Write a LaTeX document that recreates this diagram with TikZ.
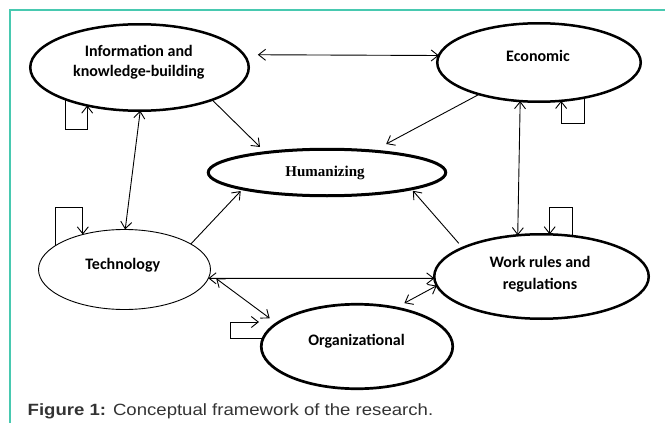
\documentclass[tikz,border=0pt]{standalone}
\usepackage{fontspec}
\setmainfont{Liberation Serif}
\newfontfamily\calibrifont{Carlito}
\newfontfamily\arialfont{Liberation Sans}
\usetikzlibrary{shapes.geometric,arrows.meta}
\definecolor{frameteal}{RGB}{72,201,176}
\definecolor{captiongray}{RGB}{51,51,51}
\begin{document}
\begin{tikzpicture}[x=1pt,y=-1pt,
  oval/.style={draw=black, ellipse, line width=2.5pt, inner sep=0pt, outer sep=0pt},
  thinoval/.style={oval, line width=0.9pt},
  lbl/.style={font=\calibrifont\bfseries\fontsize{16}{20}\selectfont, align=center, inner sep=0pt},
  link/.style={line width=0.9pt, draw=black},
  onehead/.style={-{Straight Barb[length=7pt,width=11pt]}},
  twoheads/.style={{Straight Barb[length=7pt,width=11pt]}-{Straight Barb[length=7pt,width=11pt]}}]
\useasboundingbox (0,0) rectangle (665,423);
% frame rules
\draw[frameteal, line width=2pt] (665,10) -- (10,10) -- (10,423);

% factors
\node[oval, minimum width=218.5pt, minimum height=86.5pt] (info) at (139.5,67.5) {};
\node[oval, minimum width=203.5pt, minimum height=78.5pt] (econ) at (539,62.5) {};
\node[oval, line width=3pt, minimum width=237.5pt, minimum height=46.5pt] (hum) at (327,172.5) {};
\node[thinoval, minimum width=172pt, minimum height=80pt] (tech) at (124.5,269.5) {};
\node[oval, minimum width=214.5pt, minimum height=84.5pt] (work) at (541.5,276.5) {};
\node[oval, line width=2.7pt, minimum width=191.5pt, minimum height=84.5pt] (org) at (357,346.5) {};

% labels (base = baseline of the last line)
\node[lbl, anchor=base] (infoText) at (138.8,76) {Information and\\knowledge-building};
\node[lbl, anchor=base] (econText) at (538,61.5) {Economic};
\node[anchor=base, inner sep=0pt, font=\rmfamily\bfseries\fontsize{15}{18}\selectfont] (humText) at (325,176) {Humanizing};
\node[lbl, anchor=base] (techText) at (122.8,269) {Technology};
\node[lbl, anchor=base, font=\calibrifont\bfseries\fontsize{16}{22}\selectfont] (workText) at (540,289.3) {Work rules and\\regulations};
\node[lbl, anchor=base] (orgText) at (356.5,345) {Organizational};

% self loops
\coordinate (infoLoopY) at (0,129);
\coordinate (econLoopY) at (0,123);
\coordinate (techLoopY) at (0,207);
\coordinate (workLoopY) at (0,207);
\coordinate (orgLoopX) at (230,0);
\coordinate (orgLoopEnd) at (259,322);
\draw[link, onehead] (info.203) -- (info.203 |- infoLoopY) -| (info.216);
\draw[link, onehead] (econ.322) -- (econ.322 |- econLoopY) -| (econ.300);
\draw[link, onehead] (tech.161) -- (tech.161 |- techLoopY) -| (tech.140);
\draw[link, onehead] (work.53) -- (work.53 |- workLoopY) -| (work.79);
\draw[link, onehead] (org.175) -- (org.175 -| orgLoopX) |- (orgLoopEnd);

% relations
\draw[link, twoheads, shorten <=14pt] (info.7) -- (econ.176);
\draw[link, onehead, shorten >=8pt] (info.336) -- (hum.162);
\draw[link, onehead, shorten >=15pt] (econ.208) -- (hum.25);
\draw[link, twoheads] (tech.89) -- (info.271);
\draw[link, onehead, shorten >=3pt] (tech.21) -- (hum.191);
\draw[link, onehead, shorten <=6pt, shorten >=2.5pt] (work.160) -- (hum.349);
\draw[link, twoheads] (econ.244) -- (work.120);
\draw[link, twoheads] (tech.354) -- (work.181);
\draw[link, twoheads, shorten <=7.8pt, shorten >=8.7pt] (tech.357) -- (org.164);
\draw[link, twoheads, shorten >=9.9pt] (work.185) -- (org.45);

% caption
\node[anchor=base west, inner sep=0pt, text=captiongray, font=\arialfont\fontsize{16.3}{19}\selectfont] (caption) at (27.5,415) {\scalebox{1.14}[1]{\textbf{Figure 1:} Conceptual framework of the research.}};
\end{tikzpicture}
\end{document}
